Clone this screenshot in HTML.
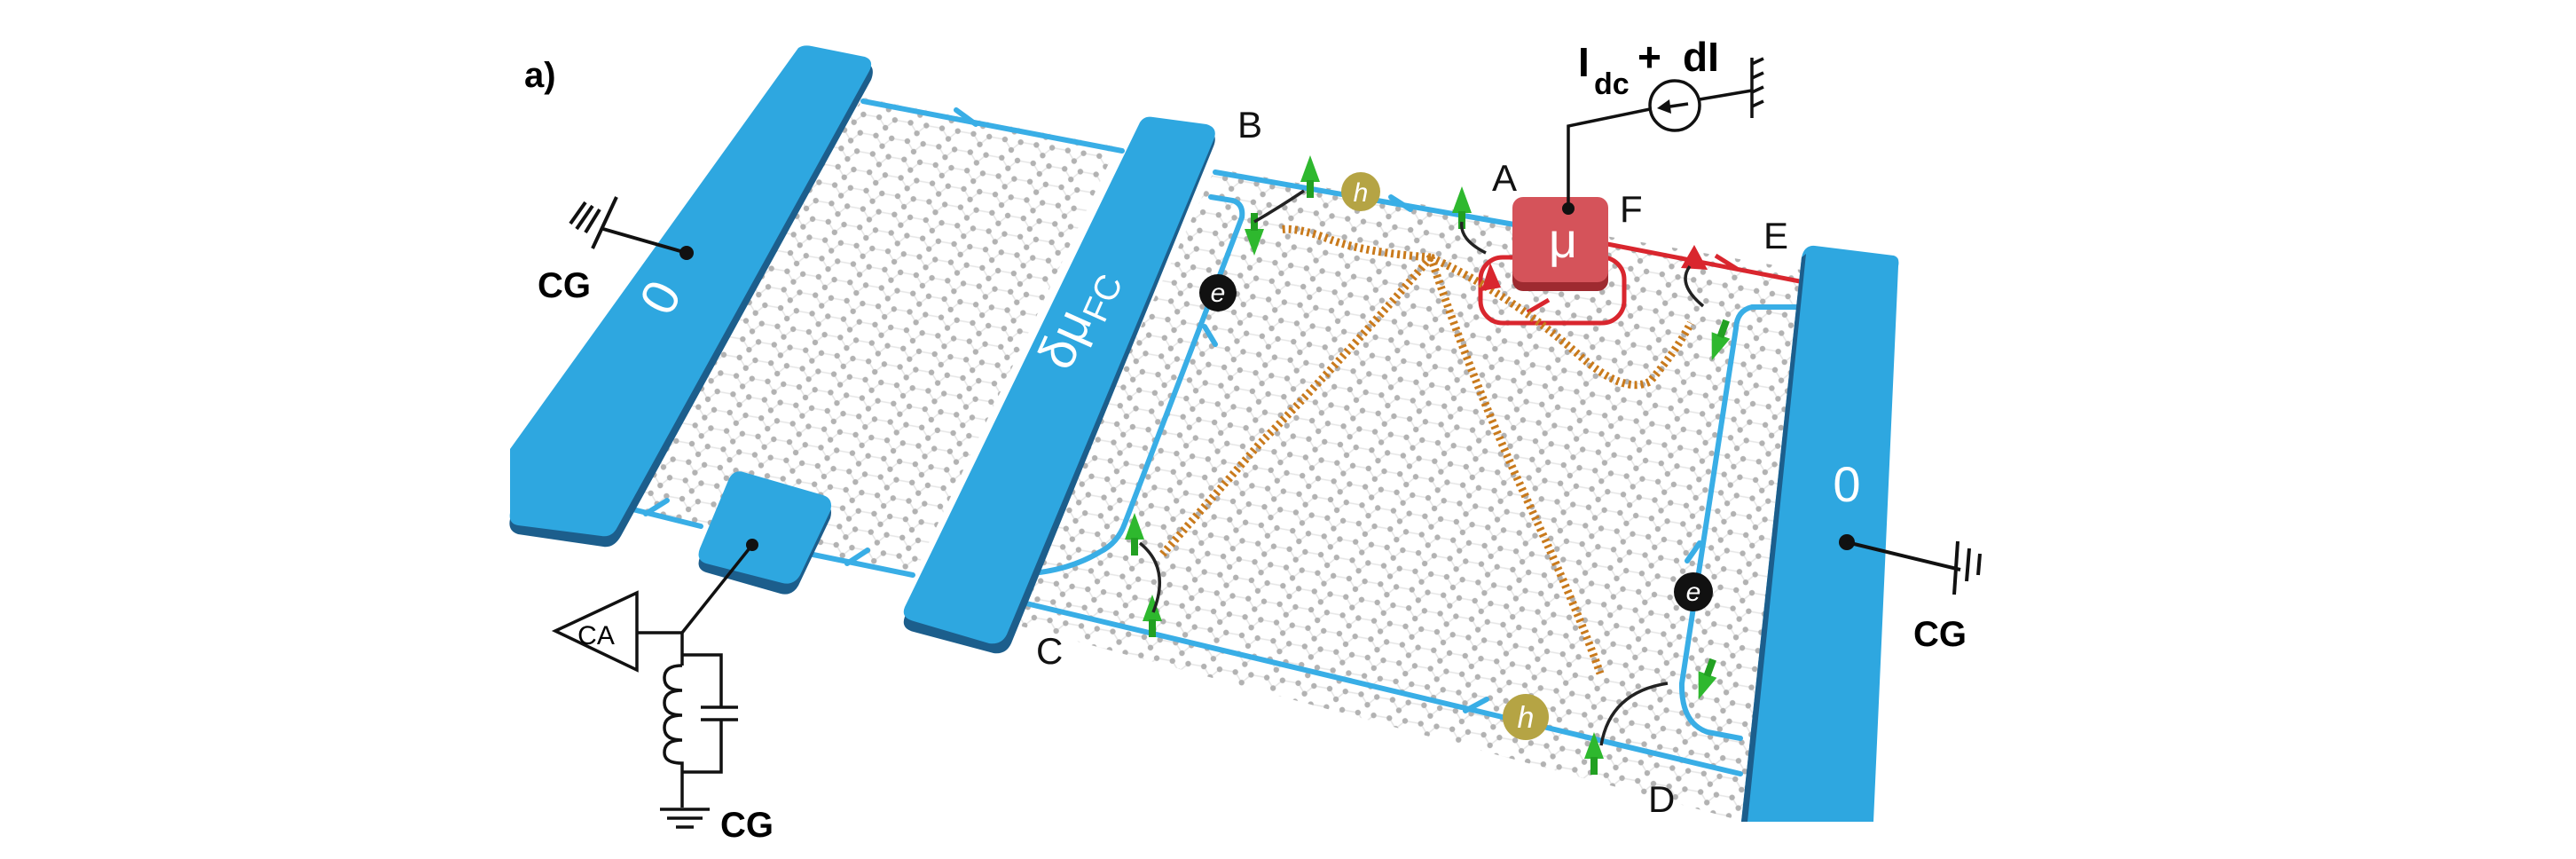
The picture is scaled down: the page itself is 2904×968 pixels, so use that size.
<!DOCTYPE html>
<html><head><meta charset="utf-8"><style>
html,body{margin:0;padding:0;background:#fff;}
svg{display:block}
text{font-family:"Liberation Sans",sans-serif}
</style></head><body>
<svg width="2904" height="968" viewBox="0 0 2904 968" xmlns="http://www.w3.org/2000/svg">
<defs>
<pattern id="hex" width="36" height="21" patternUnits="userSpaceOnUse" patternTransform="rotate(10)">
<rect width="36" height="21" fill="#fff"/>
<path d="M0 10.5 L9 0 L27 0 L36 10.5 M9 21 L27 21" stroke="#e6e6e6" stroke-width="1.5" fill="none"/>
<circle cx="9" cy="0" r="3.2" fill="#b2b2b2"/><circle cx="27" cy="0" r="3.2" fill="#b2b2b2"/>
<circle cx="0" cy="10.5" r="3.2" fill="#b2b2b2"/><circle cx="36" cy="10.5" r="3.2" fill="#b2b2b2"/>
<circle cx="9" cy="21" r="3.2" fill="#b2b2b2"/><circle cx="27" cy="21" r="3.2" fill="#b2b2b2"/>
</pattern>
<g id="spin"><path d="M0 -30 L-11 0 L11 0 Z" fill="#2eb82e"/><rect x="-4" y="-2" width="8" height="20" fill="#22a022"/></g>
</defs>

<polygon points="973,110 1259,165 1029,650 677,565" fill="url(#hex)"/>
<polygon points="1370,190 2036,305 1963,925 1130,700" fill="url(#hex)"/>

<g stroke="#39aee6" stroke-width="6" fill="none" stroke-linecap="round">
<line x1="973" y1="114" x2="1265" y2="170"/>
<polyline points="677,565 790,593"/>
<polyline points="907,623 1029,648"/>
<polyline points="1100,140 1078,124 M1100,140 1076,154"/>
<polyline points="728,579 752,564 M728,579 748,598"/>
<polyline points="955,635 978,620 M955,635 974,654"/>
<line x1="1370" y1="194" x2="1707" y2="253"/>
<line x1="1157" y1="680" x2="1962" y2="872"/>
<path d="M1365 222 L1390 226 Q1402 230 1400 245 L1268 590 Q1260 612 1240 622 Q1210 640 1172 645"/>
<path d="M2029 346 L1975 346 Q1958 350 1957 370 L1896 770 Q1895 815 1925 825 L1962 832"/>
<polyline points="1590,236 1568,222 M1590,236 1566,248"/>
<polyline points="1370,388 1358,368 M1370,388 1384,370"/>
<polyline points="1652,801 1676,788 M1652,801 1670,820"/>
<polyline points="1916,612 1902,632 M1916,612 1930,634"/>
</g>

<g stroke="#d9262e" stroke-width="5" fill="none">
<line x1="1812" y1="275" x2="2034" y2="318"/>
<polyline points="1958,303 1934,288 M1958,303 1932,314"/>
<rect x="1669" y="290" width="162" height="74" rx="25"/>
<polyline points="1722,352 1746,338 M1722,352 1744,366"/>
</g>

<g stroke="#c97a1c" stroke-width="9" fill="none" stroke-dasharray="3 4">
<path d="M1613 290 Q1540 285 1500 270 Q1460 255 1442 259"/>
<path d="M1613 290 Q1500 420 1420 500 Q1350 580 1310 625"/>
<path d="M1613 290 Q1660 430 1720 560 Q1780 690 1804 759"/>
<path d="M1613 290 Q1700 330 1780 400 Q1830 445 1860 430 Q1890 395 1906 364"/>
</g>

<path d="M900 58 Q906 55 915 57 L975 70 Q988 74 982 90 L700 604 Q692 618 680 616 L584 602 Q572 598 575 585 L575 510 Z" fill="#1c5e8c"/>
<path d="M900 54 Q906 50 915 52 L975 64 Q986 68 980 80 L696 594 Q690 606 678 604 L584 592 Q573 590 575 578 L575 506 Z" fill="#2ea7e0"/>
<text x="746" y="354" fill="#fff" font-size="58" text-anchor="middle" transform="rotate(-62 746 336)">0</text>

<path d="M1285 144 Q1290 136 1300 138 L1360 146 Q1374 150 1368 165 L1140 725 Q1134 738 1120 736 L1030 712 Q1015 708 1020 695 Z" fill="#1c5e8c"/>
<path d="M1285 138 Q1290 130 1300 132 L1360 140 Q1374 144 1368 158 L1135 715 Q1129 727 1115 725 L1030 700 Q1015 696 1020 684 Z" fill="#2ea7e0"/>
<text x="1205" y="420" fill="#fff" font-size="58" font-family="Liberation Serif,serif" transform="rotate(-66 1205 420)">δμ<tspan font-size="40" dy="14" font-family="Liberation Sans,sans-serif">FC</tspan></text>

<path d="M2031 290 Q2034 276 2046 277 L2135 288 Q2142 290 2140 300 L2112 926 L1963 926 Z" fill="#2ea7e0"/>
<path d="M2031 290 L2036 286 L1970 926 L1963 926 Z" fill="#1c5e8c"/>
<text x="2082" y="565" fill="#fff" font-size="56" text-anchor="middle">0</text>

<path d="M838 540 L928 566 Q940 570 936 584 L900 660 Q893 672 880 669 L796 645 Q784 641 789 628 L822 547 Q828 537 838 540 Z" fill="#1c5e8c"/>
<path d="M838 532 L928 558 Q940 562 936 576 L902 648 Q895 660 882 657 L796 635 Q784 631 789 618 L822 539 Q828 529 838 532 Z" fill="#2ea7e0"/>

<rect x="1705" y="230" width="108" height="98" rx="12" fill="#9e2a30"/>
<rect x="1705" y="222" width="108" height="96" rx="12" fill="#d5535a"/>
<text x="1762" y="290" fill="#fff" font-size="56" text-anchor="middle" font-family="Liberation Serif,serif">μ</text>

<g font-family="Liberation Serif,serif" font-style="italic" text-anchor="middle">
<circle cx="1373" cy="330" r="21" fill="#111"/><text x="1373" y="340" fill="#fff" font-size="30">e</text>
<circle cx="1909" cy="667" r="22" fill="#111"/><text x="1909" y="677" fill="#fff" font-size="30">e</text>
<circle cx="1534" cy="216" r="22" fill="#b5a444"/><text x="1534" y="227" fill="#fff" font-size="30">h</text>
<circle cx="1720" cy="808" r="26" fill="#b5a444"/><text x="1720" y="820" fill="#fff" font-size="34">h</text>
</g>

<use href="#spin" x="1477" y="205"/>
<use href="#spin" x="1414" y="258" transform="rotate(180 1414 258)"/>
<use href="#spin" x="1648" y="240"/>
<use href="#spin" x="1279" y="608"/>
<use href="#spin" x="1299" y="700"/>
<use href="#spin" x="1940" y="378" transform="rotate(200 1940 378)"/>
<use href="#spin" x="1925" y="760" transform="rotate(200 1925 760)"/>
<use href="#spin" x="1797" y="855"/>
<path d="M1910 276 L1895 302 L1925 304 Z" fill="#d9262e"/>
<path d="M1680 296 L1670 328 L1692 324 Z" fill="#d9262e"/>

<g stroke="#222" stroke-width="3.5" fill="none">
<path d="M1414 250 Q1440 235 1470 215"/>
<path d="M1648 250 Q1645 270 1675 285"/>
<path d="M1920 345 Q1890 320 1905 300"/>
<path d="M1285 612 Q1320 640 1300 690"/>
<path d="M1805 840 Q1815 780 1880 770"/>
</g>

<g font-size="42" fill="#111">
<text x="1395" y="155">B</text>
<text x="1682" y="215">A</text>
<text x="1826" y="250">F</text>
<text x="1988" y="280">E</text>
<text x="1168" y="748">C</text>
<text x="1858" y="915">D</text>
</g>
<text x="591" y="98" font-size="40" font-weight="bold">a)</text>

<g stroke="#111" stroke-width="4" fill="none">
<line x1="774" y1="285" x2="680" y2="258"/>
<line x1="695" y1="222" x2="668" y2="280"/>
<line x1="668" y1="232" x2="650" y2="258"/>
<line x1="660" y1="228" x2="643" y2="252"/>
<line x1="676" y1="236" x2="660" y2="262"/>
</g>
<circle cx="774" cy="285" r="8" fill="#111"/>
<text x="606" y="335" font-size="40" font-weight="bold">CG</text>

<circle cx="848" cy="614" r="7" fill="#111"/>
<g stroke="#111" stroke-width="3.5" fill="none">
<line x1="848" y1="614" x2="769" y2="713"/>
<polygon points="626,711 718,668 718,755"/>
<line x1="718" y1="713" x2="769" y2="713"/>
<line x1="769" y1="713" x2="769" y2="750"/>
<polyline points="769,738 813,738 813,796"/>
<line x1="790" y1="797" x2="832" y2="797"/>
<line x1="790" y1="811" x2="832" y2="811"/>
<polyline points="813,811 813,870 769,870"/>
<path d="M769 750 q-20 0 -20 14 q0 14 20 14 m0 0 q-20 0 -20 14 q0 14 20 14 m0 0 q-20 0 -20 14 q0 14 20 14 m0 0 q-20 0 -20 14 q0 12 20 12 L769 910"/>
<line x1="744" y1="912" x2="800" y2="912"/>
<line x1="752" y1="922" x2="792" y2="922"/>
<line x1="762" y1="932" x2="782" y2="932"/>
</g>
<text x="672" y="726" font-size="30" font-family="Liberation Serif,serif" text-anchor="middle">CA</text>
<text x="812" y="943" font-size="40" font-weight="bold">CG</text>

<circle cx="2082" cy="611" r="9" fill="#111"/>
<g stroke="#111" stroke-width="4" fill="none">
<line x1="2082" y1="611" x2="2210" y2="642"/>
<line x1="2207" y1="610" x2="2203" y2="670"/>
<line x1="2220" y1="618" x2="2217" y2="655"/>
<line x1="2232" y1="624" x2="2230" y2="648"/>
</g>
<text x="2157" y="728" font-size="40" font-weight="bold">CG</text>

<circle cx="1768" cy="235" r="7" fill="#111"/>
<g stroke="#111" stroke-width="3.5" fill="none">
<polyline points="1768,235 1768,142 1860,123"/>
<circle cx="1888" cy="119" r="28"/>
<line x1="1916" y1="112" x2="1975" y2="102"/>
<line x1="1975" y1="65" x2="1975" y2="133"/>
<line x1="1975" y1="72" x2="1988" y2="66"/><line x1="1975" y1="88" x2="1988" y2="82"/>
<line x1="1975" y1="104" x2="1988" y2="98"/><line x1="1975" y1="120" x2="1988" y2="114"/>
<line x1="1903" y1="117" x2="1876" y2="121"/>
</g>
<path d="M1868 122 L1882 112 L1884 128 Z" fill="#111"/>
<text x="1779" y="86" font-size="46" font-weight="bold" font-family="Liberation Serif,serif">I</text>
<text x="1797" y="106" font-size="34" font-weight="bold">dc</text>
<text x="1846" y="80" font-size="46" font-weight="bold">+</text>
<text x="1897" y="80" font-size="46" font-weight="bold">dI</text>
</svg>
</body></html>
